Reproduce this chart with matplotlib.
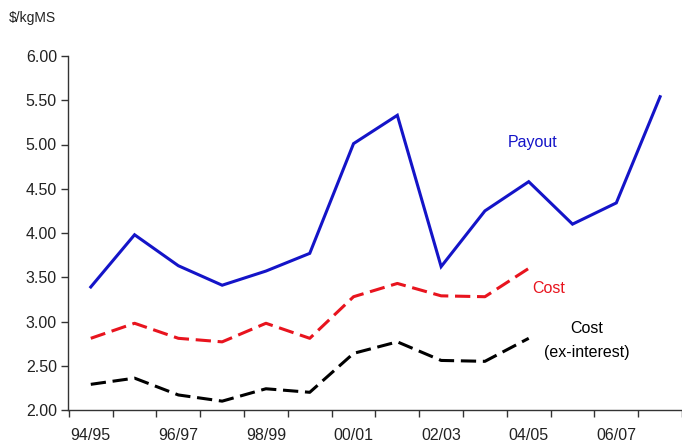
import matplotlib
matplotlib.use('Agg')
import matplotlib.pyplot as plt
import numpy as np

seasons = ['94/95', '95/96', '96/97', '97/98', '98/99', '99/00', '00/01',
           '01/02', '02/03', '03/04', '04/05', '05/06', '06/07', '07/08']
payout = [3.39, 3.98, 3.63, 3.41, 3.57, 3.77, 5.01, 5.33, 3.62, 4.25, 4.58, 4.10, 4.34, 5.54]
cost = [2.81, 2.98, 2.81, 2.77, 2.98, 2.81, 3.28, 3.43, 3.29, 3.28, 3.60]
cost_ex_int = [2.29, 2.36, 2.17, 2.10, 2.24, 2.20, 2.64, 2.77, 2.56, 2.55, 2.81]
yticks = [2.0, 2.5, 3.0, 3.5, 4.0, 4.5, 5.0, 5.5, 6.0]

plt.rcParams['font.family'] = ['Liberation Sans', 'DejaVu Sans']

fig = plt.figure(figsize=(6.82, 4.45), dpi=100)
ax = fig.add_axes([68 / 682, 35 / 445, 614 / 682, 354 / 445])

x = np.arange(len(seasons))
ax.plot(x, payout, color='#1414c8', lw=2.2, solid_joinstyle='miter')
ax.plot(x[:len(cost)], cost, color='#e8141e', lw=2.2, dashes=(5, 2.2))
ax.plot(x[:len(cost_ex_int)], cost_ex_int, color='black', lw=2.2, dashes=(5, 2.2))

ax.set_xlim(-0.52, 13.34)
ax.set_ylim(2.0, 6.0)
ax.set_yticks(yticks)
ax.set_yticklabels([f'{v:.2f}' for v in yticks], fontsize=11.5, color='#222222')

# boundary ticks between seasons, labels on every second season
ax.set_xticks(np.arange(-0.5, 13.6, 1.0))
ax.set_xticklabels([])
ax.set_xticks(x[::2], minor=True)
ax.set_xticklabels(seasons[::2], minor=True, fontsize=11.5, color='#222222')
ax.tick_params(axis='x', which='major', length=5, width=1, color='#333333', direction='out')
ax.tick_params(axis='x', which='minor', length=0, pad=13)
ax.tick_params(axis='y', length=5, width=1, color='#333333', direction='out', pad=3)

for side in ['top', 'right']:
    ax.spines[side].set_visible(False)
for side in ['left', 'bottom']:
    ax.spines[side].set_color('#333333')
    ax.spines[side].set_linewidth(1.0)

ax.text(10.1, 5.02, 'Payout', color='#1414c8', fontsize=11.5, ha='center', va='center')
ax.text(10.45, 3.37, 'Cost', color='#e8141e', fontsize=11.5, ha='center', va='center')
ax.text(11.32, 2.92, 'Cost', color='black', fontsize=11.5, ha='center', va='center')
ax.text(11.32, 2.65, '(ex-interest)', color='black', fontsize=11.5, ha='center', va='center')

fig.text(32 / 682, 1 - 18 / 445, '$/kgMS', fontsize=10, ha='center', va='center', color='#222222')

fig.savefig('out.png', dpi=100)
